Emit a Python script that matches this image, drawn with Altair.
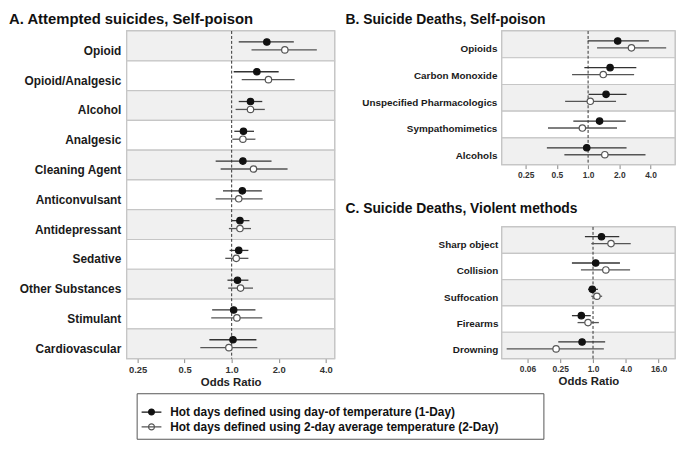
import altair as alt
import pandas as pd

FONT = "Liberation Sans"

SERIES = [
    "Hot days defined using day-of temperature (1-Day)",
    "Hot days defined using 2-day average temperature (2-Day)",
]

# ---------------- Panel A ----------------
A_title = "A. Attempted suicides, Self-poison"
A_categories = ["Opioid", "Opioid/Analgesic", "Alcohol", "Analgesic", "Cleaning Agent",
                "Anticonvulsant", "Antidepressant", "Sedative", "Other Substances",
                "Stimulant", "Cardiovascular"]
A_or_1day = [1.68, 1.45, 1.32, 1.19, 1.18, 1.17, 1.13, 1.11, 1.09, 1.03, 1.02]
A_lo_1day = [1.11, 1.03, 1.11, 1.04, 0.79, 0.88, 1.00, 0.97, 0.94, 0.75, 0.72]
A_hi_1day = [2.50, 2.00, 1.57, 1.39, 1.80, 1.56, 1.30, 1.28, 1.28, 1.42, 1.44]
A_or_2day = [2.19, 1.72, 1.32, 1.18, 1.38, 1.11, 1.13, 1.07, 1.14, 1.08, 0.96]
A_lo_2day = [1.34, 1.16, 1.06, 1.01, 0.85, 0.79, 0.96, 0.91, 0.95, 0.74, 0.63]
A_hi_2day = [3.51, 2.53, 1.63, 1.42, 2.28, 1.58, 1.33, 1.28, 1.37, 1.57, 1.46]
A_ticks = [0.25, 0.5, 1, 2, 4]
A_tick_labels = ["0.25", "0.5", "1.0", "2.0", "4.0"]
A_domain = [0.213, 4.56]

# ---------------- Panel B ----------------
B_title = "B. Suicide Deaths, Self-poison"
B_categories = ["Opioids", "Carbon Monoxide", "Unspecified Pharmacologics",
                "Sympathomimetics", "Alcohols"]
B_or_1day = [1.93, 1.63, 1.49, 1.29, 0.97]
B_lo_1day = [0.99, 0.92, 1.01, 0.72, 0.40]
B_hi_1day = [3.86, 2.92, 2.35, 2.31, 2.35]
B_or_2day = [2.62, 1.40, 1.05, 0.88, 1.45]
B_lo_2day = [1.22, 0.70, 0.60, 0.41, 0.59]
B_hi_2day = [5.67, 2.78, 1.86, 1.90, 3.58]
B_ticks = [0.25, 0.5, 1, 2, 4]
B_tick_labels = ["0.25", "0.5", "1.0", "2.0", "4.0"]
B_domain = [0.147, 6.9]

# ---------------- Panel C ----------------
C_title = "C. Suicide Deaths, Violent methods"
C_categories = ["Sharp object", "Collision", "Suffocation", "Firearms", "Drowning"]
C_or_1day = [1.43, 1.12, 0.97, 0.61, 0.63]
C_lo_1day = [0.71, 0.41, 0.81, 0.41, 0.23]
C_hi_1day = [3.03, 3.12, 1.23, 0.91, 1.67]
C_or_2day = [2.14, 1.72, 1.18, 0.81, 0.21]
C_lo_2day = [0.93, 0.60, 0.93, 0.52, 0.026]
C_hi_2day = [4.92, 4.79, 1.47, 1.28, 1.58]
C_ticks = [0.0625, 0.25, 1, 4, 16]
C_tick_labels = ["0.06", "0.25", "1.0", "4.0", "16.0"]
C_domain = [0.0212, 32]

X_TITLE = "Odds Ratio"
REF_LINE = [1]

# legend title: white (invisible) text that only reserves the box width
LEG_TITLE = "0" * 179
LEG_SYMBOL = ("M-1.25,0L1.25,0M-0.375,0A0.375,0.375,0,1,1,0.375,0"
              "A0.375,0.375,0,1,1,-0.375,0Z")

fill_scale = alt.Scale(domain=SERIES, range=["#111111", "#ffffff"])
stroke_scale = alt.Scale(domain=SERIES, range=["#111111", "#555555"])
err_colors = ["#333333", "#555555"]


def make_df(cats, or1, lo1, hi1, or2, lo2, hi2):
    rows = []
    for i, c in enumerate(cats):
        rows.append(dict(cat=c, series=SERIES[0], OR=or1[i], lo=lo1[i], hi=hi1[i]))
        rows.append(dict(cat=c, series=SERIES[1], OR=or2[i], lo=lo2[i], hi=hi2[i]))
    return pd.DataFrame(rows)


def panel(title, title_size, title_dx, title_offset, cats, df, width, height,
          domain, ticks, labels, tick_font, cat_font, label_pad, y_off, x_title):
    label_expr = ("[" + ",".join("'%s'" % l for l in labels) + "][indexof(["
                  + ",".join(repr(t) for t in ticks) + "], datum.value)]")
    xscale = alt.Scale(type="log", domain=domain, nice=False)
    axis_kw = dict(values=ticks, labelExpr=label_expr, grid=False, domain=False,
                   ticks=True, tickColor="#888888", tickSize=4, tickWidth=1,
                   labelFontSize=tick_font, labelFont=FONT, labelFontWeight="bold",
                   labelColor="#333333", labelPadding=2, titleFont=FONT,
                   titleFontSize=11.5, titleFontWeight="bold", titleColor="#222222",
                   titlePadding=3)
    xaxis = alt.Axis(**axis_kw)

    def X(field):
        if x_title:
            return alt.X(field, scale=xscale, axis=xaxis, title=x_title)
        return alt.X(field, scale=xscale, axis=xaxis, title=None)

    yscale = alt.Scale(domain=cats, paddingInner=0, paddingOuter=0)
    yaxis = alt.Axis(ticks=False, domain=False, labelFont=FONT, labelFontSize=cat_font,
                     labelFontWeight="bold", labelColor="#1a1a1a",
                     labelPadding=label_pad, labelOffset=5, labelLimit=300)
    Y = alt.Y("cat:N", scale=yscale, axis=yaxis, sort=cats, title=None)

    bg_df = pd.DataFrame({"cat": cats,
                          "bg": ["#f0f0f0" if i % 2 == 0 else "#ffffff"
                                 for i in range(len(cats))]})
    bg = alt.Chart(bg_df).mark_rect(stroke="#c6c6c6", strokeWidth=1.2).encode(
        y=Y, x=alt.value(0), x2=alt.value("width"),
        color=alt.Color("bg:N", scale=None))

    vline = alt.Chart(pd.DataFrame({"ref": REF_LINE})).mark_rule(
        color="#333333", strokeDash=[3, 2], strokeWidth=1).encode(x=X("ref:Q"))

    layers = [bg, vline]
    pts_layers = []
    for s in range(2):
        sub = df[df.series == SERIES[s]]
        err = alt.Chart(sub).mark_rule(color=err_colors[s], strokeWidth=1.3,
                                       yOffset=y_off[s]).encode(
            x=X("lo:Q"), x2="hi:Q", y=Y)
        pts = alt.Chart(sub).mark_point(filled=True, opacity=1, size=42,
                                        strokeWidth=1.2, yOffset=y_off[s]).encode(
            x=X("OR:Q"), y=Y,
            fill=alt.Fill("series:N", scale=fill_scale, title=LEG_TITLE),
            stroke=alt.Stroke("series:N", scale=stroke_scale, title=LEG_TITLE))
        layers.append(err)
        pts_layers.append(pts)
    layers += pts_layers

    return alt.layer(*layers).properties(
        width=width, height=height,
        title=alt.TitleParams(title, anchor="start", frame="group", dx=title_dx,
                              offset=title_offset, baseline="alphabetic",
                              fontSize=title_size, font=FONT, fontWeight="bold",
                              color="#111111"))


dfA = make_df(A_categories, A_or_1day, A_lo_1day, A_hi_1day, A_or_2day, A_lo_2day, A_hi_2day)
dfB = make_df(B_categories, B_or_1day, B_lo_1day, B_hi_1day, B_or_2day, B_lo_2day, B_hi_2day)
dfC = make_df(C_categories, C_or_1day, C_lo_1day, C_hi_1day, C_or_2day, C_lo_2day, C_hi_2day)

chartA = panel(A_title, 15, -119, -8, A_categories, dfA, 210, 331, A_domain,
               A_ticks, A_tick_labels, 9.5, 12, 6, [-4, 4], X_TITLE)
chartB = panel(B_title, 14, -158, -8, B_categories, dfB, 175, 135, B_domain,
               B_ticks, B_tick_labels, 8.5, 10, 5, [-3.5, 3.5], None)
chartC = panel(C_title, 14, -158, 0, C_categories, dfC, 175, 133, C_domain,
               C_ticks, C_tick_labels, 8.5, 10, 4, [-3.5, 3.5], X_TITLE)

right = alt.vconcat(chartB, chartC, spacing=63, bounds="flush")
chart = alt.hconcat(chartA, right, spacing=169, bounds="flush").properties(
    padding=0
).configure_view(
    stroke="#b5b5b5", strokeWidth=1.5
).configure_legend(
    orient="none", legendX=10, legendY=366, padding=6,
    strokeColor="#555555", strokeWidth=1, fillColor="#ffffff",
    symbolType=LEG_SYMBOL, symbolSize=256, symbolStrokeWidth=1.2,
    labelFont=FONT, labelFontSize=12, labelFontWeight="bold", labelColor="#111111",
    labelOffset=10, labelLimit=600, titleFont=FONT, titleFontSize=4,
    titleColor="#ffffff", titlePadding=0, titleLimit=3000, rowPadding=0
)

chart.save("out.html", embed_options={"renderer": "svg", "actions": False})
